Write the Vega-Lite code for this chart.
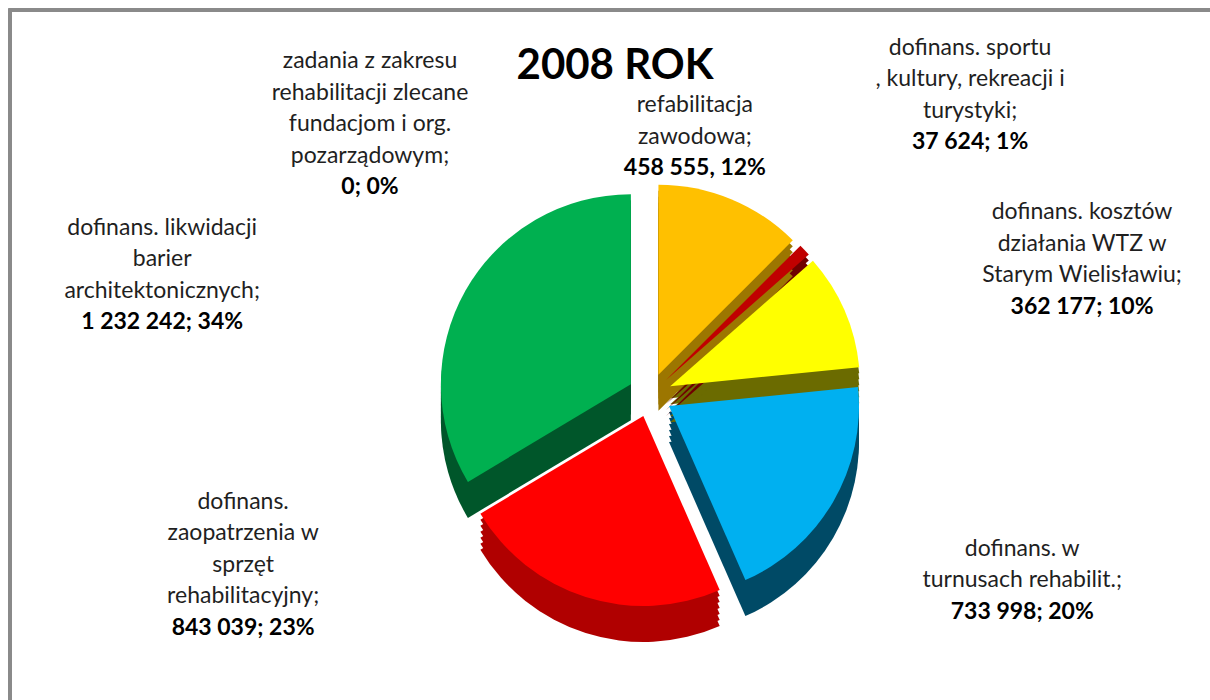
{
  "$schema": "https://vega.github.io/schema/vega-lite/v6.json",
  "width": 1280,
  "height": 770,
  "autosize": "none",
  "padding": {"left": 10, "top": 10, "right": 0, "bottom": 0},
  "background": "white",
  "config": {
    "view": {"stroke": null},
    "font": "Lato"
  },
  "title": {
    "text": "2008 ROK",
    "font": "Lato",
    "fontSize": 42,
    "fontWeight": "bold",
    "color": "#000000",
    "anchor": "middle",
    "frame": "group",
    "baseline": "alphabetic",
    "offset": -112,
    "dx": -35
  },
  "data": {
    "values": [
      {"n": 1, "kategoria": "refabilitacja zawodowa", "kwota": 458555, "opis": ["refabilitacja", "zawodowa;"], "wartosc": "458 555, 12%"},
      {"n": 2, "kategoria": "dofinans. sportu, kultury, rekreacji i turystyki", "kwota": 37624, "opis": ["dofinans.  sportu", ", kultury, rekreacji i", "turystyki;"], "wartosc": "37 624; 1%"},
      {"n": 3, "kategoria": "dofinans. kosztów działania WTZ w Starym Wielisławiu", "kwota": 362177, "opis": ["dofinans.  kosztów", "działania WTZ w", "Starym Wielisławiu;"], "wartosc": "362 177; 10%"},
      {"n": 4, "kategoria": "dofinans. w turnusach rehabilit.", "kwota": 733998, "opis": ["dofinans.  w", "turnusach rehabilit.;"], "wartosc": "733 998; 20%"},
      {"n": 5, "kategoria": "dofinans. zaopatrzenia w sprzęt rehabilitacyjny", "kwota": 843039, "opis": ["dofinans.", "zaopatrzenia w", "sprzęt", "rehabilitacyjny;"], "wartosc": "843 039; 23%"},
      {"n": 6, "kategoria": "dofinans. likwidacji barier architektonicznych", "kwota": 1232242, "opis": ["dofinans.  likwidacji", "barier", "architektonicznych;"], "wartosc": "1 232 242; 34%"},
      {"n": 7, "kategoria": "zadania z zakresu rehabilitacji zlecane fundacjom i org. pozarządowym", "kwota": 0, "opis": ["zadania z zakresu", "rehabilitacji zlecane", "fundacjom i org.", "pozarządowym;"], "wartosc": "0; 0%"}
    ]
  },
  "layer": [
    {
      "mark": {"type": "rect", "fill": "transparent", "stroke": "#8a8a8a", "strokeWidth": 3},
      "encoding": {}
    },
    {
      "mark": {
        "type": "arc", "radius": 190,
        "xOffset": {"expr": "22*sin((scale('theta', datum.kwota_start) + scale('theta', datum.kwota_end))/2)"},
        "yOffset": {"expr": "6 - 22*cos((scale('theta', datum.kwota_start) + scale('theta', datum.kwota_end))/2)"}
      },
      "encoding": {
        "theta": {"field": "kwota", "type": "quantitative", "stack": true},
        "order": {"field": "n", "type": "quantitative"},
        "color": {"field": "n", "type": "nominal", "legend": null,
          "scale": {"domain": [1, 2, 3, 4, 5, 6, 7], "range": ["#9C7600", "#700000", "#6B6B00", "#004A66", "#B00000", "#00562A", "#555555"]}}
      }
    },
    {
      "mark": {
        "type": "arc", "radius": 190,
        "xOffset": {"expr": "22*sin((scale('theta', datum.kwota_start) + scale('theta', datum.kwota_end))/2)"},
        "yOffset": {"expr": "12 - 22*cos((scale('theta', datum.kwota_start) + scale('theta', datum.kwota_end))/2)"}
      },
      "encoding": {
        "theta": {"field": "kwota", "type": "quantitative", "stack": true},
        "order": {"field": "n", "type": "quantitative"},
        "color": {"field": "n", "type": "nominal", "legend": null,
          "scale": {"domain": [1, 2, 3, 4, 5, 6, 7], "range": ["#9C7600", "#700000", "#6B6B00", "#004A66", "#B00000", "#00562A", "#555555"]}}
      }
    },
    {
      "mark": {
        "type": "arc", "radius": 190,
        "xOffset": {"expr": "22*sin((scale('theta', datum.kwota_start) + scale('theta', datum.kwota_end))/2)"},
        "yOffset": {"expr": "18 - 22*cos((scale('theta', datum.kwota_start) + scale('theta', datum.kwota_end))/2)"}
      },
      "encoding": {
        "theta": {"field": "kwota", "type": "quantitative", "stack": true},
        "order": {"field": "n", "type": "quantitative"},
        "color": {"field": "n", "type": "nominal", "legend": null,
          "scale": {"domain": [1, 2, 3, 4, 5, 6, 7], "range": ["#9C7600", "#700000", "#6B6B00", "#004A66", "#B00000", "#00562A", "#555555"]}}
      }
    },
    {
      "mark": {
        "type": "arc", "radius": 190,
        "xOffset": {"expr": "22*sin((scale('theta', datum.kwota_start) + scale('theta', datum.kwota_end))/2)"},
        "yOffset": {"expr": "24 - 22*cos((scale('theta', datum.kwota_start) + scale('theta', datum.kwota_end))/2)"}
      },
      "encoding": {
        "theta": {"field": "kwota", "type": "quantitative", "stack": true},
        "order": {"field": "n", "type": "quantitative"},
        "color": {"field": "n", "type": "nominal", "legend": null,
          "scale": {"domain": [1, 2, 3, 4, 5, 6, 7], "range": ["#9C7600", "#700000", "#6B6B00", "#004A66", "#B00000", "#00562A", "#555555"]}}
      }
    },
    {
      "mark": {
        "type": "arc", "radius": 190,
        "xOffset": {"expr": "22*sin((scale('theta', datum.kwota_start) + scale('theta', datum.kwota_end))/2)"},
        "yOffset": {"expr": "30 - 22*cos((scale('theta', datum.kwota_start) + scale('theta', datum.kwota_end))/2)"}
      },
      "encoding": {
        "theta": {"field": "kwota", "type": "quantitative", "stack": true},
        "order": {"field": "n", "type": "quantitative"},
        "color": {"field": "n", "type": "nominal", "legend": null,
          "scale": {"domain": [1, 2, 3, 4, 5, 6, 7], "range": ["#9C7600", "#700000", "#6B6B00", "#004A66", "#B00000", "#00562A", "#555555"]}}
      }
    },
    {
      "mark": {
        "type": "arc", "radius": 190,
        "xOffset": {"expr": "22*sin((scale('theta', datum.kwota_start) + scale('theta', datum.kwota_end))/2)"},
        "yOffset": {"expr": "36 - 22*cos((scale('theta', datum.kwota_start) + scale('theta', datum.kwota_end))/2)"}
      },
      "encoding": {
        "theta": {"field": "kwota", "type": "quantitative", "stack": true},
        "order": {"field": "n", "type": "quantitative"},
        "color": {"field": "n", "type": "nominal", "legend": null,
          "scale": {"domain": [1, 2, 3, 4, 5, 6, 7], "range": ["#9C7600", "#700000", "#6B6B00", "#004A66", "#B00000", "#00562A", "#555555"]}}
      }
    },
    {
      "mark": {
        "type": "arc", "radius": 190,
        "xOffset": {"expr": "22*sin((scale('theta', datum.kwota_start) + scale('theta', datum.kwota_end))/2)"},
        "yOffset": {"expr": "-22*cos((scale('theta', datum.kwota_start) + scale('theta', datum.kwota_end))/2)"}
      },
      "encoding": {
        "theta": {"field": "kwota", "type": "quantitative", "stack": true},
        "order": {"field": "n", "type": "quantitative"},
        "fill": {"field": "n", "type": "nominal", "legend": null,
          "scale": {"domain": [1, 2, 3, 4, 5, 6, 7], "range": ["#FFC000", "#C00000", "#FFFF00", "#00B0F0", "#FF0000", "#00B050", "#7F7F7F"]}}
      }
    },
    {
      "mark": {
        "type": "text", "radius": 240, "font": "Lato", "fontSize": 23, "lineHeight": 31.5,
        "align": "center", "baseline": "middle", "color": "#1f1f1f",
        "dx": {"expr": "datum.n == 1 ? -47 : datum.n == 2 ? 145 : datum.n == 3 ? 212 : datum.n == 4 ? 165 : datum.n == 5 ? -334 : datum.n == 6 ? -279 : -280"},
        "dy": {"expr": "datum.n == 1 ? -68 : datum.n == 2 ? -183 : datum.n == 3 ? -87 : datum.n == 4 ? 33 : datum.n == 5 ? -122 : datum.n == 6 ? -49 : -94"}
      },
      "encoding": {
        "theta": {"field": "kwota", "type": "quantitative", "stack": true},
        "order": {"field": "n", "type": "quantitative"},
        "text": {"field": "opis"}
      }
    },
    {
      "mark": {
        "type": "text", "radius": 240, "font": "Lato", "fontSize": 23, "fontWeight": "bold",
        "align": "center", "baseline": "middle", "color": "#000000",
        "dx": {"expr": "datum.n == 1 ? -47 : datum.n == 2 ? 145 : datum.n == 3 ? 212 : datum.n == 4 ? 165 : datum.n == 5 ? -334 : datum.n == 6 ? -279 : -280"},
        "dy": {"expr": "datum.n == 1 ? -5 : datum.n == 2 ? -88.5 : datum.n == 3 ? 7.5 : datum.n == 4 ? 96 : datum.n == 5 ? 4 : datum.n == 6 ? 45.5 : 32"}
      },
      "encoding": {
        "theta": {"field": "kwota", "type": "quantitative", "stack": true},
        "order": {"field": "n", "type": "quantitative"},
        "text": {"field": "wartosc"}
      }
    }
  ],
  "resolve": {"scale": {"color": "independent"}}
}
